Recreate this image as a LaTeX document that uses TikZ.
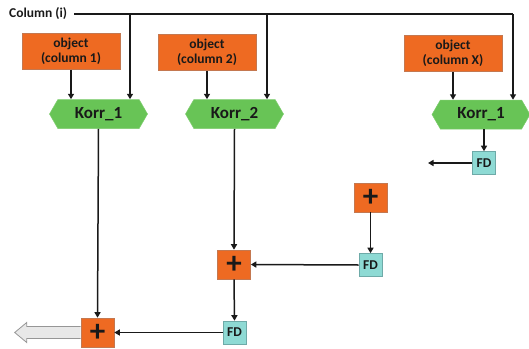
\documentclass[tikz,border=0pt]{standalone}
\usepackage{fontspec}
\setmainfont{Carlito}
\usetikzlibrary{shapes.symbols,arrows.meta}

\definecolor{objorange}{RGB}{238,106,34}
\definecolor{objedge}{RGB}{196,120,80}
\definecolor{korrgreen}{RGB}{104,196,86}
\definecolor{fdcyan}{RGB}{142,218,212}
\definecolor{fdedge}{RGB}{110,170,168}
\definecolor{outgray}{RGB}{232,232,232}
\definecolor{outedge}{RGB}{150,150,150}
\definecolor{txt}{RGB}{25,25,25}

\tikzset{
  x=1pt, y=-1pt,
  objbox/.style={rectangle, fill=objorange, draw=objedge, line width=0.6pt,
    minimum width=98pt, minimum height=36pt, inner sep=0pt, align=center,
    text=txt, font=\bfseries\fontsize{13.5}{15.5}\selectfont},
  korr/.style={signal, signal to=west and east, signal pointer angle=120,
    fill=korrgreen, draw=korrgreen!85!white, line width=0.5pt,
    minimum width=98pt, minimum height=29pt, inner sep=0pt,
    text=txt, font=\bfseries\fontsize{17}{19}\selectfont},
  plusbox/.style={rectangle, fill=objorange, draw=objedge, line width=0.6pt,
    minimum width=33pt, minimum height=29pt, inner sep=0pt,
    text=txt, font=\bfseries\fontsize{31}{31}\selectfont},
  fdbox/.style={rectangle, fill=fdcyan, draw=fdedge, line width=0.6pt,
    minimum width=23pt, minimum height=23pt, inner sep=0pt,
    text=txt, font=\bfseries\fontsize{13.5}{15}\selectfont},
  conn/.style={draw=txt, line width=1.5pt,
    -{Triangle[length=5.5pt,width=6pt]}},
  bus/.style={draw=txt, line width=1.5pt},
}

\begin{document}
\begin{tikzpicture}
\useasboundingbox (0,0) rectangle (529,348);

% input column and its distribution bus
\node[anchor=west, inner sep=0pt, text=txt,
  font=\bfseries\fontsize{13.5}{15}\selectfont] (col) at (9,14) {Column (i)};
\coordinate (b1) at (130,14);
\coordinate (b2) at (267,14);
\coordinate (b3) at (513,14);

% object boxes
\node[objbox] (o1) at (71,51.5)  {object\\(column 1)};
\node[objbox] (o2) at (207,52.5) {object\\(column 2)};
\node[objbox] (o3) at (453,53.5) {object\\(column X)};

% correlation blocks
\node[korr] (k1) at (98.5,114)  {Korr\_1};
\node[korr] (k2) at (234.5,114) {Korr\_2};
\node[korr] (k3) at (481,114.5) {Korr\_1};

% summation and delay blocks
\node[fdbox]   (fd1) at (484,163)   {FD};
\node[plusbox] (p1)  at (370.5,197.5) {+};
\node[fdbox]   (fd2) at (370.5,265) {FD};
\node[plusbox] (p2)  at (234,264.5) {+};
\node[fdbox]   (fd3) at (234.5,332.5) {FD};
\node[plusbox] (p3)  at (97.5,332.5) {+};
\coordinate (fd1out) at (428,163);

% bus lines
\draw[bus] (col.east) ++(7,0) -- (b3);
\draw[conn] (b1) -- (b1 |- k1.north);
\draw[conn] (b2) -- (b2 |- k2.north);
\draw[conn] (b3) -- (b3 |- k3.north);

% object inputs
\draw[conn] (o1.south) -- (o1.south |- k1.north);
\draw[conn] (o2.south) -- (o2.south |- k2.north);
\draw[conn] (o3.south) -- (o3.south |- k3.north);

% signal flow
\draw[conn] (fd1.north |- k3.south) -- (fd1.north);
\draw[conn] (fd1.west) -- (fd1out);
\draw[conn] (p1.south) -- (fd2.north);
\draw[conn] (fd2.west) -- (p2.east);
\draw[conn] (k2.south) -- (p2.north);
\draw[conn] (p2.south) -- (fd3.north);
\draw[conn] (fd3.west) -- (p3.east);
\draw[conn] (k1.south) -- (p3.north);

% output arrow
\draw[fill=outgray, draw=outedge, line width=0.8pt]
  (p3.west) ++(0,-6) -- ++(-54,0) -- ++(0,-4) -- ++(-12,10)
  -- ++(12,10) -- ++(0,-4) -- ++(54,0);
\end{tikzpicture}
\end{document}
